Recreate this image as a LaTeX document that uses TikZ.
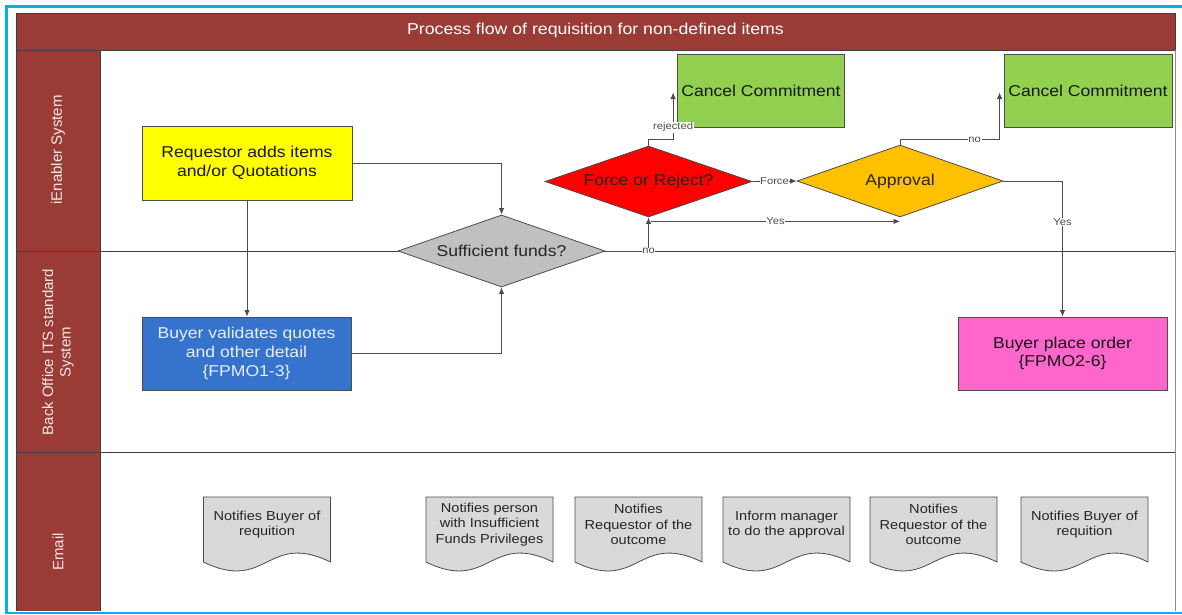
\documentclass[tikz,border=0pt]{standalone}
\usepackage{fontspec}
\setmainfont{Liberation Sans}
\newfontfamily\widesf[FakeStretch=1.12]{Liberation Sans}
\usetikzlibrary{shapes.geometric,arrows.meta,calc}
\definecolor{hdr}{HTML}{9B3B36}
\definecolor{frameblue}{HTML}{00B0F0}
\definecolor{reqyellow}{HTML}{FFFF00}
\definecolor{bvblue}{HTML}{3573CC}
\definecolor{cancelgreen}{HTML}{92D050}
\definecolor{bpopink}{HTML}{FF66CC}
\definecolor{apprgold}{HTML}{FFC000}
\definecolor{forcered}{HTML}{FF0000}
\definecolor{sufgrey}{HTML}{C0C0C0}
\definecolor{docgrey}{HTML}{D9D9D9}
\tikzset{
  boxnode/.style={draw=black!70, line width=0.8pt, inner sep=0pt, align=center,
    font=\widesf\fontsize{15.7}{18.7}\selectfont, text=black!90},
  dianode/.style={diamond, draw=black!70, line width=0.8pt, inner sep=0pt,
    shape aspect=2.9, align=center, font=\widesf\fontsize{15.7}{18.7}\selectfont, text=black!85},
  conn/.style={draw=black!70, line width=0.9pt, -{Latex[length=6.5pt,width=5.5pt]}},
  lbl/.style={fill=white, inner sep=0.6pt, font=\widesf\fontsize{10}{12}\selectfont, text=black!70},
  lanelbl/.style={rotate=90, text=white!88!hdr, align=center, font=\fontsize{15}{17.5}\selectfont},
  doctext/.style={align=center, inner sep=0pt, font=\widesf\fontsize{13}{15.3}\selectfont, text=black!85},
  docshape/.style={fill=docgrey, draw=black!70, line width=0.8pt}
}
\begin{document}
\begin{tikzpicture}[x=1pt,y=-1pt]
\useasboundingbox (0,0) rectangle (1182,614);
\fill[white] (0,0) rectangle (1182,614);
% blue frame (right side lies outside the picture)
\draw[frameblue, line width=3pt] (6.5,614) -- (6.5,6.5) -- (1182,6.5);
\draw[frameblue, line width=2.5pt] (6.5,612.8) -- (1182,612.8);
% pool
\fill[hdr] (16,13) rectangle (1175,50);
\fill[hdr] (16,50) rectangle (100,611);
\draw[black!75, line width=0.9pt] (16,13) rectangle (1175,50);
\draw[black!75, line width=0.9pt] (16,50) -- (16,611);
\draw[black!75, line width=0.9pt] (100,50) -- (100,611);
\draw[black!45, line width=1pt] (1175,50) -- (1175,611);
\draw[black!75, line width=1pt] (16,251) -- (1175,251);
\draw[black!75, line width=1pt] (16,452) -- (1175,452);
\node[text=white, font=\widesf\fontsize{15.8}{18}\selectfont] (title) at (595.5,30.5) {Process flow of requisition for non-defined items};
\node[lanelbl] (lane1) at (58,150) {iEnabler System};
\node[lanelbl] (lane2) at (58,352) {Back Office ITS standard\\System};
\node[lanelbl] (lane3) at (58,552) {Email};
% process nodes
\node[boxnode, fill=reqyellow, minimum width=210, minimum height=74] (req) at (247,163) {Requestor adds items\\and/or Quotations};
\node[boxnode, fill=bvblue, text=white!88!bvblue, minimum width=209, minimum height=73] (bv) at (246.5,353.5) {Buyer validates quotes\\and other detail\\\{FPMO1-3\}};
\node[dianode, fill=sufgrey, minimum width=207, minimum height=72] (suf) at (501.5,251) {Sufficient funds?};
\node[dianode, fill=forcered, minimum width=207, minimum height=71] (force) at (648.5,181.5) {Force or Reject?};
\node[dianode, fill=apprgold, minimum width=206, minimum height=72] (appr) at (900,181) {Approval};
\node[boxnode, fill=cancelgreen, minimum width=167, minimum height=73] (cc1) at (761,90.5) {Cancel Commitment};
\node[boxnode, fill=cancelgreen, minimum width=168, minimum height=73] (cc2) at (1088,90.5) {Cancel Commitment};
\node[boxnode, fill=bpopink, minimum width=209, minimum height=73] (bpo) at (1062.5,353.5) {Buyer place order\\\{FPMO2-6\}};
% email documents
\foreach \cx/\nm/\txt in {267/d1/{Notifies Buyer of\\requition},
                        489.5/d2/{Notifies person\\with Insufficient\\Funds Privileges},
                        638.5/d3/{Notifies\\Requestor of the\\outcome},
                        786.5/d4/{Inform manager\\to do the approval},
                        933.5/d5/{Notifies\\Requestor of the\\outcome},
                        1084.5/d6/{Notifies Buyer of\\requition}}{
  \path[docshape] (\cx-63.5,497) -- (\cx+63.5,497) -- (\cx+63.5,562)
     .. controls (\cx,531) and (\cx,593) .. (\cx-63.5,562) -- cycle;
  \node[doctext] (\nm) at (\cx,524.5) {\txt};
}
% connectors
\coordinate (cr1) at ($(cc1.west)+(-4,2)$);
\coordinate (cr2) at ($(cc2.west)+(-4,2)$);
\coordinate (ys) at ($(force.south)+(2.5,4)$);
\draw[conn] (req.east) -| (suf.north);
\draw[conn] (req.south) -- (req.south |- bv.north);
\draw[conn] (bv.east) -| (suf.south);
\draw[conn] (suf.east) -| node[lbl, pos=0.5] {no} (force.south);
\draw[conn] (ys) -- node[lbl] {Yes} (ys -| appr.south);
\draw[conn] (force.north) -- ++(0,-6) -| node[lbl, pos=0.63] {rejected} (cr1);
\draw[conn] (force.east) -- node[lbl] {Force} (appr.west);
\draw[conn] (appr.north) -- ++(0,-5) -| node[lbl, pos=0.375] {no} (cr2);
\draw[conn] (appr.east) -| node[lbl, pos=0.65] {Yes} (bpo.north);
\end{tikzpicture}
\end{document}
